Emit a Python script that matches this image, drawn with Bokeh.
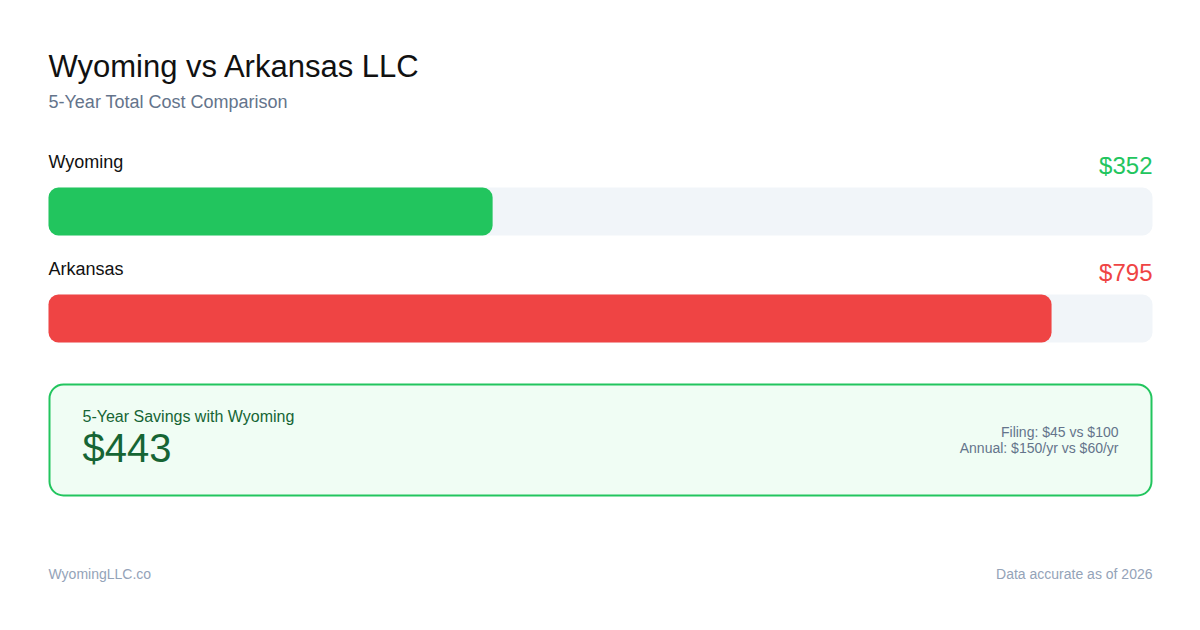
from bokeh.plotting import figure
from bokeh.models import Range1d, BoxAnnotation, ColumnDataSource
from bokeh.core.properties import value
from bokeh.embed import file_html
from bokeh.resources import INLINE

# ---- data ----
states = ["Wyoming", "Arkansas"]
totals = [352, 795]
total_labels = ["$352", "$795"]
bar_colors = ["#22c55e", "#ef4444"]
label_colors = ["#22c55e", "#ef4444"]
scale_max = 875
savings = 795 - 352
fee_notes = ["Filing: $45 vs $100", "Annual: $150/yr vs $60/yr"]

FONT = value("Liberation Sans")

# ---- layout helpers (reference pixel coords -> data units on x) ----
W, H = 1184, 614
TRACK_L, TRACK_R = 48, 1152
per_px = scale_max / (TRACK_R - TRACK_L)


def xv(px):
    return (px - TRACK_L) * per_px


def ty(baseline, size):
    # compensate renderer's baseline placement
    return baseline - 0.36 * size


p = figure(width=W, height=H, output_backend="svg", toolbar_location=None,
           x_range=Range1d(xv(0), xv(W)), y_range=Range1d(H, 0),
           min_border=0, outline_line_color=None, background_fill_color="white",
           border_fill_color="white")
p.axis.visible = False
p.grid.visible = False

# title & subtitle
p.text(x=[xv(48)], y=[ty(77, 31)], text=["Wyoming vs Arkansas LLC"], text_font=FONT,
       text_font_size="31px", text_color="#111111", text_baseline="alphabetic")
p.text(x=[xv(48)], y=[ty(108, 18)], text=["5-Year Total Cost Comparison"], text_font=FONT,
       text_font_size="18px", text_color="#64748b", text_baseline="alphabetic")

# bars
row_top = [187, 294]
bar_h = 48
centers = [t + bar_h / 2 for t in row_top]
track_src = ColumnDataSource(dict(y=centers, right=[scale_max] * 2))
p.hbar(y="y", left=0, right="right", height=bar_h, source=track_src,
       fill_color="#f1f5f9", line_color=None, border_radius=10)
bar_src = ColumnDataSource(dict(y=centers, right=totals, color=bar_colors))
p.hbar(y="y", left=0, right="right", height=bar_h, source=bar_src,
       fill_color="color", line_color=None, border_radius=10)

name_src = ColumnDataSource(dict(x=[xv(48)] * 2, y=[ty(t - 19, 18) for t in row_top], text=states))
p.text(x="x", y="y", text="text", source=name_src, text_font=FONT,
       text_font_size="18px", text_color="#111111", text_baseline="alphabetic")
val_src = ColumnDataSource(dict(x=[scale_max] * 2, y=[ty(t - 13, 24) for t in row_top],
                                text=total_labels, color=label_colors))
p.text(x="x", y="y", text="text", source=val_src, text_font=FONT,
       text_font_size="24px", text_color="color", text_align="right",
       text_baseline="alphabetic")

# savings box
box = BoxAnnotation(left=xv(49), right=xv(1151), top=384, bottom=495,
                    fill_color="#f0fdf4", fill_alpha=1.0, line_color="#22c55e",
                    line_alpha=1.0, line_width=2, border_radius=14, level="underlay")
p.add_layout(box)
p.text(x=[xv(82)], y=[ty(422, 16)], text=["5-Year Savings with Wyoming"], text_font=FONT,
       text_font_size="16px", text_color="#166534", text_baseline="alphabetic")
p.text(x=[xv(82)], y=[ty(462, 40)], text=[f"${savings}"], text_font=FONT,
       text_font_size="40px", text_color="#166534", text_baseline="alphabetic")
p.text(x=[xv(1118)] * 2, y=[ty(437, 14), ty(453, 14)], text=fee_notes, text_font=FONT,
       text_font_size="14px", text_color="#64748b", text_align="right",
       text_baseline="alphabetic")

# footer
p.text(x=[xv(48)], y=[ty(579, 14)], text=["WyomingLLC.co"], text_font=FONT,
       text_font_size="14px", text_color="#94a3b8", text_baseline="alphabetic")
p.text(x=[xv(1152)], y=[ty(579, 14)], text=["Data accurate as of 2026"], text_font=FONT,
       text_font_size="14px", text_color="#94a3b8", text_align="right",
       text_baseline="alphabetic")

open("out.html", "w").write(file_html(p, INLINE))
